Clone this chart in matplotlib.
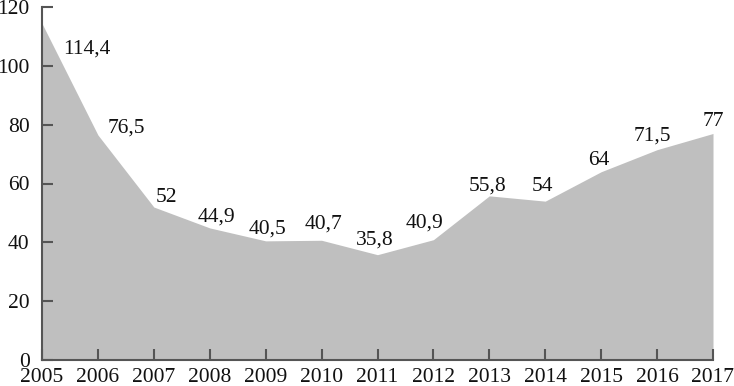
import matplotlib.pyplot as plt

# данные
years = [2005, 2006, 2007, 2008, 2009, 2010, 2011, 2012, 2013, 2014, 2015, 2016, 2017]
values = [114.4, 76.5, 52, 44.9, 40.5, 40.7, 35.8, 40.9, 55.8, 54, 64, 71.5, 77]
labels = ['114,4', '76,5', '52', '44,9', '40,5', '40,7', '35,8', '40,9', '55,8', '54', '64', '71,5', '77']
# сдвиг подписей (в пикселях) относительно точки
offsets = [(45, -26), (28, 7), (13, 10), (7, 11), (2, 12), (2, 16), (-3, 15),
           (-9, 17), (-2, 10), (-3, 15), (-2, 11), (-5, 14), (0, 12)]

plt.rcParams['font.family'] = ['Liberation Serif', 'DejaVu Serif']

fig = plt.figure(figsize=(7.34, 3.86), dpi=100)
ax = fig.add_axes([42 / 734, 1 - 360 / 386, (713 - 42) / 734, (360 - 7) / 386])

ax.fill_between(years, values, 0, color='#bfbfbf', linewidth=0)

for x, y, lab, (dx, dy) in zip(years, values, labels, offsets):
    ax.annotate(lab, (x, y), xytext=(dx * 0.72, dy * 0.72), textcoords='offset points',
                ha='center', va='center', fontsize=15.5, color='#111111')

ax.set_xlim(2005, 2017)
ax.set_ylim(0, 120)
ax.set_xticks(years)
ax.set_yticks(range(0, 121, 20))

for s in ['top', 'right']:
    ax.spines[s].set_visible(False)
for s in ['left', 'bottom']:
    ax.spines[s].set_color('#555555')
    ax.spines[s].set_linewidth(1.5)

ax.tick_params(axis='both', direction='in', length=8, width=1.5, color='#555555',
               labelsize=15.5, labelcolor='#111111')
ax.tick_params(axis='y', pad=9)
ax.tick_params(axis='x', pad=6)

plt.savefig('out.png', dpi=100)
